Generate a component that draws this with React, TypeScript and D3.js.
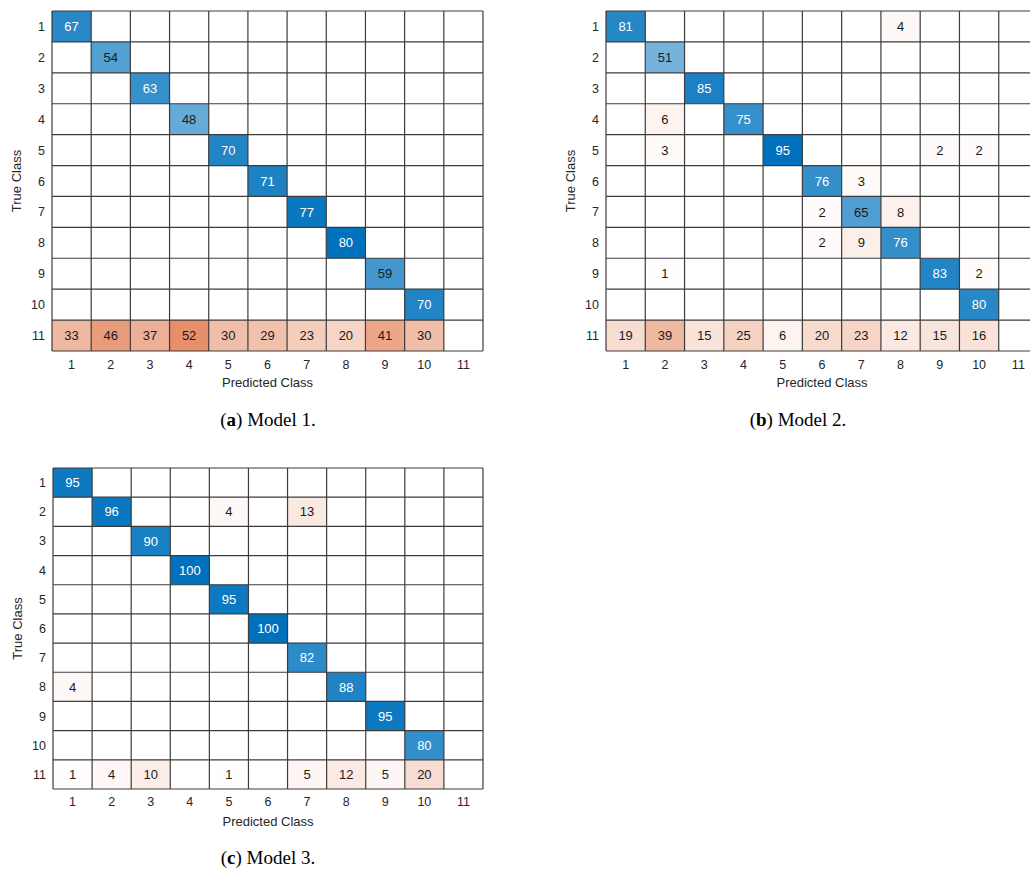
import React from "react";
import * as d3 from "d3";

const classes = ["1", "2", "3", "4", "5", "6", "7", "8", "9", "10", "11"];

const model1: number[][] = [
  [67, 0, 0, 0, 0, 0, 0, 0, 0, 0, 0],
  [0, 54, 0, 0, 0, 0, 0, 0, 0, 0, 0],
  [0, 0, 63, 0, 0, 0, 0, 0, 0, 0, 0],
  [0, 0, 0, 48, 0, 0, 0, 0, 0, 0, 0],
  [0, 0, 0, 0, 70, 0, 0, 0, 0, 0, 0],
  [0, 0, 0, 0, 0, 71, 0, 0, 0, 0, 0],
  [0, 0, 0, 0, 0, 0, 77, 0, 0, 0, 0],
  [0, 0, 0, 0, 0, 0, 0, 80, 0, 0, 0],
  [0, 0, 0, 0, 0, 0, 0, 0, 59, 0, 0],
  [0, 0, 0, 0, 0, 0, 0, 0, 0, 70, 0],
  [33, 46, 37, 52, 30, 29, 23, 20, 41, 30, 0],
];

const model2: number[][] = [
  [81, 0, 0, 0, 0, 0, 0, 4, 0, 0, 0],
  [0, 51, 0, 0, 0, 0, 0, 0, 0, 0, 0],
  [0, 0, 85, 0, 0, 0, 0, 0, 0, 0, 0],
  [0, 6, 0, 75, 0, 0, 0, 0, 0, 0, 0],
  [0, 3, 0, 0, 95, 0, 0, 0, 2, 2, 0],
  [0, 0, 0, 0, 0, 76, 3, 0, 0, 0, 0],
  [0, 0, 0, 0, 0, 2, 65, 8, 0, 0, 0],
  [0, 0, 0, 0, 0, 2, 9, 76, 0, 0, 0],
  [0, 1, 0, 0, 0, 0, 0, 0, 83, 2, 0],
  [0, 0, 0, 0, 0, 0, 0, 0, 0, 80, 0],
  [19, 39, 15, 25, 6, 20, 23, 12, 15, 16, 0],
];

const model3: number[][] = [
  [95, 0, 0, 0, 0, 0, 0, 0, 0, 0, 0],
  [0, 96, 0, 0, 4, 0, 13, 0, 0, 0, 0],
  [0, 0, 90, 0, 0, 0, 0, 0, 0, 0, 0],
  [0, 0, 0, 100, 0, 0, 0, 0, 0, 0, 0],
  [0, 0, 0, 0, 95, 0, 0, 0, 0, 0, 0],
  [0, 0, 0, 0, 0, 100, 0, 0, 0, 0, 0],
  [0, 0, 0, 0, 0, 0, 82, 0, 0, 0, 0],
  [4, 0, 0, 0, 0, 0, 0, 88, 0, 0, 0],
  [0, 0, 0, 0, 0, 0, 0, 0, 95, 0, 0],
  [0, 0, 0, 0, 0, 0, 0, 0, 0, 80, 0],
  [1, 4, 10, 0, 1, 0, 5, 12, 5, 20, 0],
];

const captions = [
  { letter: "a", text: " Model 1." },
  { letter: "b", text: " Model 2." },
  { letter: "c", text: " Model 3." },
];

const SANS = "'Liberation Sans', Arial, Helvetica, sans-serif";
const SERIF = "'Liberation Serif', 'Times New Roman', serif";

type PanelProps = {
  data: number[][];
  x0: number;
  y0: number;
  w: number;
  h: number;
  caption: { letter: string; text: string };
  captionX: number;
  tickGap: number;
  labelGap: number;
  captionGap: number;
};

function Panel({ data, x0, y0, w, h, caption, captionX, tickGap, labelGap, captionGap }: PanelProps) {
  const xs = d3.scaleBand<string>().domain(classes).range([x0, x0 + w]);
  const ys = d3.scaleBand<string>().domain(classes).range([y0, y0 + h]);
  const maxV = d3.max(data.flat()) as number;
  const blue = d3.interpolateRgb("#ffffff", "#0072BD");
  const orange = d3.interpolateRgb("#ffffff", "#D95319");
  const cells: React.ReactNode[] = [];
  data.forEach((row, i) => {
    row.forEach((v, j) => {
      if (!v) return;
      const t = v / maxV;
      const fill = i === j ? blue(t) : orange(t);
      const cx = xs(classes[j])!;
      const cy = ys(classes[i])!;
      cells.push(
        <g key={`${i}-${j}`}>
          <rect x={cx} y={cy} width={xs.bandwidth()} height={ys.bandwidth()} fill={fill} />
          <text
            x={cx + xs.bandwidth() / 2}
            y={cy + ys.bandwidth() / 2}
            dy="0.36em"
            textAnchor="middle"
            fontSize={13}
            fontFamily={SANS}
            fill={t > 0.75 ? "#ffffff" : "#1a1a1a"}
          >
            {v}
          </text>
        </g>
      );
    });
  });
  const lines: React.ReactNode[] = [];
  for (let k = 0; k <= classes.length; k++) {
    const xx = k < classes.length ? xs(classes[k])! : x0 + w;
    const yy = k < classes.length ? ys(classes[k])! : y0 + h;
    lines.push(
      <line key={`v${k}`} x1={xx} x2={xx} y1={y0} y2={y0 + h} stroke="#3c3c3c" strokeWidth={1.2} />
    );
    lines.push(
      <line key={`h${k}`} x1={x0} x2={x0 + w} y1={yy} y2={yy} stroke="#3c3c3c" strokeWidth={1.2} />
    );
  }
  return (
    <g>
      <rect x={x0} y={y0} width={w} height={h} fill="#ffffff" />
      {cells}
      {lines}
      {classes.map((c) => (
        <text
          key={`yt${c}`}
          x={x0 - 7}
          y={ys(c)! + ys.bandwidth() / 2}
          dy="0.36em"
          textAnchor="end"
          fontSize={12.5}
          fontFamily={SANS}
          fill="#262626"
        >
          {c}
        </text>
      ))}
      {classes.map((c) => (
        <text
          key={`xt${c}`}
          x={xs(c)! + xs.bandwidth() / 2}
          y={y0 + h + tickGap}
          textAnchor="middle"
          fontSize={12.5}
          fontFamily={SANS}
          fill="#262626"
        >
          {c}
        </text>
      ))}
      <text
        x={x0 + w / 2}
        y={y0 + h + labelGap}
        textAnchor="middle"
        fontSize={13}
        fontFamily={SANS}
        fill="#262626"
      >
        Predicted Class
      </text>
      <text
        transform={`translate(${x0 - 31},${y0 + h / 2}) rotate(-90)`}
        textAnchor="middle"
        fontSize={13}
        fontFamily={SANS}
        fill="#262626"
      >
        True Class
      </text>
      <text
        x={captionX}
        y={y0 + h + captionGap}
        textAnchor="middle"
        fontSize={19}
        fontFamily={SERIF}
        fill="#000000"
      >
        (<tspan fontWeight="bold">{caption.letter}</tspan>){caption.text}
      </text>
    </g>
  );
}

export default function App() {
  return (
    <svg
      width={1030}
      height={870}
      style={{ position: "absolute", left: 0, top: 0, background: "#ffffff" }}
    >
      <rect x={0} y={0} width={1030} height={870} fill="#ffffff" />
      <Panel data={model1} x0={52} y0={11} w={431} h={340} caption={captions[0]} captionX={268}
        tickGap={18} labelGap={36} captionGap={75} />
      <Panel data={model2} x0={606} y0={11} w={432} h={340} caption={captions[1]} captionX={798}
        tickGap={18} labelGap={36} captionGap={75} />
      <Panel data={model3} x0={53} y0={468} w={430} h={321} caption={captions[2]} captionX={268}
        tickGap={17} labelGap={37} captionGap={75} />
    </svg>
  );
}
